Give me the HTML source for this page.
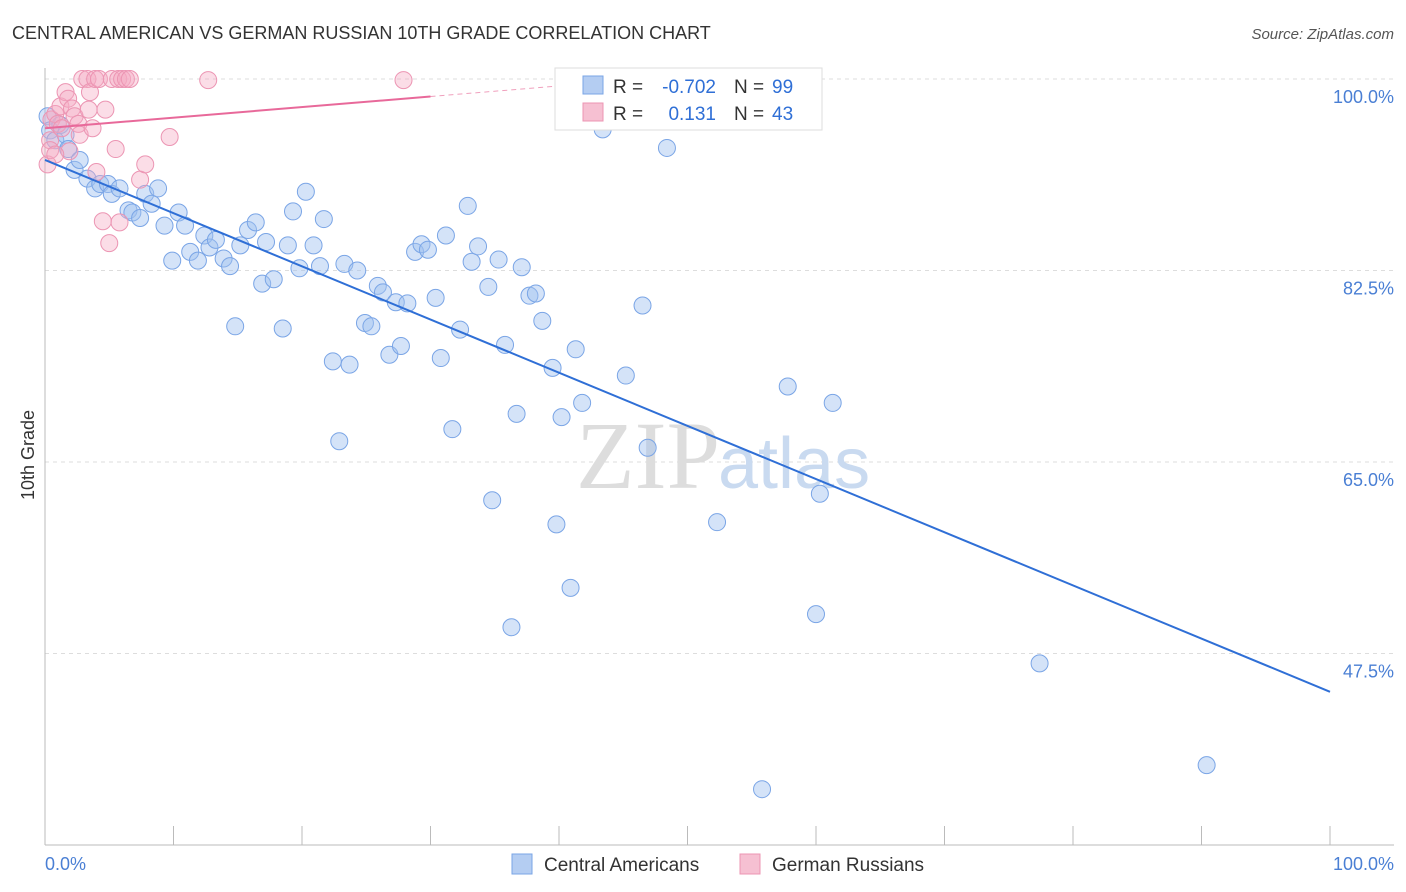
<!DOCTYPE html>
<html><head><meta charset="utf-8"><style>
body{margin:0;background:#fff;font-family:"Liberation Sans",sans-serif}
svg{display:block}
</style></head><body>
<svg id="chart" width="1406" height="892" xmlns="http://www.w3.org/2000/svg">
<text x="12" y="39" font-size="18" fill="#333">CENTRAL AMERICAN VS GERMAN RUSSIAN 10TH GRADE CORRELATION CHART</text>
<text x="1394" y="39" font-size="15" fill="#555" text-anchor="end" font-style="italic">Source: ZipAtlas.com</text>
<g id="grid"></g>
<text x="720" y="488" font-size="96" font-family="Liberation Serif,serif" fill="#ddd" text-anchor="end">ZIP</text>
<text x="718" y="488" font-size="72" fill="#c9daf0">atlas</text>
<g id="marks"></g>
<text transform="translate(34,455) rotate(-90)" font-size="18" fill="#333" text-anchor="middle">10th Grade</text>
<text x="45" y="870" font-size="18" fill="#4a7fd4">0.0%</text>
<text x="1394" y="870" font-size="18" fill="#4a7fd4" text-anchor="end">100.0%</text>
<g>
<rect x="555" y="68" width="267" height="62" fill="#fff" stroke="#ddd"/>
<rect x="583" y="76" width="20" height="18" fill="#b4cdf2" stroke="#7aa5e6"/>
<text x="613" y="93" font-size="19" fill="#333">R =</text>
<text x="716" y="93" font-size="19" fill="#2f6fd6" text-anchor="end">-0.702</text>
<text x="734" y="93" font-size="19" fill="#333">N =</text>
<text x="772" y="93" font-size="19" fill="#2f6fd6">99</text>
<rect x="583" y="103" width="20" height="18" fill="#f6c0d2" stroke="#ec95b3"/>
<text x="613" y="120" font-size="19" fill="#333">R =</text>
<text x="716" y="120" font-size="19" fill="#2f6fd6" text-anchor="end">0.131</text>
<text x="734" y="120" font-size="19" fill="#333">N =</text>
<text x="772" y="120" font-size="19" fill="#2f6fd6">43</text>
</g>
<g>
<rect x="512" y="854" width="20" height="20" fill="#b4cdf2" stroke="#7aa5e6"/>
<text x="544" y="871" font-size="19" fill="#333">Central Americans</text>
<rect x="740" y="854" width="20" height="20" fill="#f6c0d2" stroke="#ec95b3"/>
<text x="772" y="871" font-size="19" fill="#333">German Russians</text>
</g>
</svg>
<script>
const yTicks=[100,82.5,65,47.5];
const yTickLabels=["100.0%","82.5%","65.0%","47.5%"];
const blueX=[0.2,0.4,0.8,1.2,1.6,1.8,2.3,2.7,3.3,3.9,4.3,4.9,5.2,5.8,6.5,6.8,7.4,7.8,8.3,8.8,9.3,9.9,10.4,10.9,11.3,11.9,12.4,12.8,13.3,13.9,14.4,14.8,15.2,15.8,16.4,16.9,17.2,17.8,18.5,18.9,19.3,19.8,20.3,20.9,21.4,21.7,22.4,22.9,23.3,23.7,24.3,24.9,25.4,25.9,26.3,26.8,27.3,27.7,28.2,28.8,29.3,29.8,30.4,30.8,31.2,31.7,32.3,32.9,33.2,33.7,34.5,34.8,35.3,35.8,36.3,36.7,37.1,37.7,38.2,38.7,39.5,39.8,40.2,40.9,41.3,41.8,43.4,45.2,46.5,46.9,48.4,50.97,52.3,57.8,60,60.3,61.3,77.4,90.4,55.8];
const blueY=[96.6,95.3,94.4,95.8,94.9,93.6,91.7,92.6,90.9,90,90.4,90.4,89.5,90,88,87.8,87.3,89.5,88.6,90,86.6,83.4,87.8,86.6,84.2,83.4,85.7,84.6,85.3,83.6,82.9,77.4,84.8,86.2,86.9,81.3,85.1,81.7,77.2,84.8,87.9,82.7,89.7,84.8,82.9,87.2,74.2,66.9,83.1,73.9,82.5,77.7,77.4,81.1,80.5,74.8,79.6,75.6,79.5,84.2,84.9,84.4,80,74.5,85.7,68,77.1,88.4,83.3,84.7,81,61.5,83.5,75.7,49.9,69.4,82.8,80.2,80.4,77.9,73.6,59.3,69.1,53.5,75.3,70.4,95.4,72.9,79.3,66.3,93.7,99.7,59.5,71.9,51.1,62.1,70.4,46.6,37.3,35.1];
const pinkX=[0.2,0.4,0.5,0.8,1,1.2,1.3,1.6,1.8,1.9,2.1,2.3,2.6,2.7,2.9,3.3,3.4,3.5,3.7,3.9,4,4.2,4.5,4.7,5,5.2,5.5,5.7,5.8,6,6.3,6.6,7.4,7.8,9.7,12.7,27.9,0.4,0.8];
const pinkY=[92.2,94.4,96.3,96.8,95.9,97.5,95.5,98.8,98.2,93.4,97.3,96.6,95.9,94.9,100,100,97.2,98.8,95.5,100,91.5,100,87,97.2,85,100,93.6,100,86.9,100,100,100,90.8,92.2,94.7,99.9,99.9,93.5,93.1];
const blueTrend=[0,92.6,100,44.0];
const pinkTrend=[0,95.5,30,98.4];
const X=v=>45+v/100*1285;
const Y=v=>79+(100-v)/17.5*191.5;
const NS="http://www.w3.org/2000/svg";
const grid=document.getElementById('grid'),marks=document.getElementById('marks');
function mk(t,a,p){const e=document.createElementNS(NS,t);for(const k in a)e.setAttribute(k,a[k]);p.appendChild(e);return e;}
yTicks.forEach((v,i)=>{
const l=mk('line',{x1:45,x2:1394,y1:Y(v),y2:Y(v),stroke:'#ddd','stroke-dasharray':'4,4'},grid);


const t=mk('text',{x:1394,y:Y(v)+24,'font-size':18,fill:'#4a7fd4','text-anchor':'end'},grid);
t.textContent=yTickLabels[i];


});
const ax=mk('line',{x1:45,x2:1394,y1:845,y2:845,stroke:'#bbb'},grid);


const ay=mk('line',{x1:45,x2:45,y1:68,y2:845,stroke:'#bbb'},grid);


for(let i=0;i<=10;i++){const tk=mk('line',{x1:X(i*10),x2:X(i*10),y1:826,y2:845,stroke:'#bbb'},grid);

}
blueX.forEach((x,i)=>{const c=mk('circle',{cx:X(x),cy:Y(blueY[i]),r:8.5,fill:'rgba(160,192,240,0.45)',stroke:'#7aa5e6','stroke-width':1},marks);

});
pinkX.forEach((x,i)=>{const c=mk('circle',{cx:X(x),cy:Y(pinkY[i]),r:8.5,fill:'rgba(244,170,196,0.4)',stroke:'#ec95b3','stroke-width':1},marks);

});
const bt=mk('line',{x1:X(blueTrend[0]),y1:Y(blueTrend[1]),x2:X(blueTrend[2]),y2:Y(blueTrend[3]),stroke:'#2f6fd6','stroke-width':2},marks);


const pv=x=>pinkTrend[1]+(pinkTrend[3]-pinkTrend[1])*(x-pinkTrend[0])/(pinkTrend[2]-pinkTrend[0]);
const pt=mk('line',{x1:X(pinkTrend[0]),y1:Y(pv(pinkTrend[0])),x2:X(pinkTrend[2]),y2:Y(pv(pinkTrend[2])),stroke:'#e8699a','stroke-width':2},marks);


const pd=mk('line',{x1:X(pinkTrend[2]),y1:Y(pv(pinkTrend[2])),x2:X(40),y2:Y(pv(40)),stroke:'#f0a0bd','stroke-width':1,'stroke-dasharray':'5,4'},marks);


</script>
</body></html>
